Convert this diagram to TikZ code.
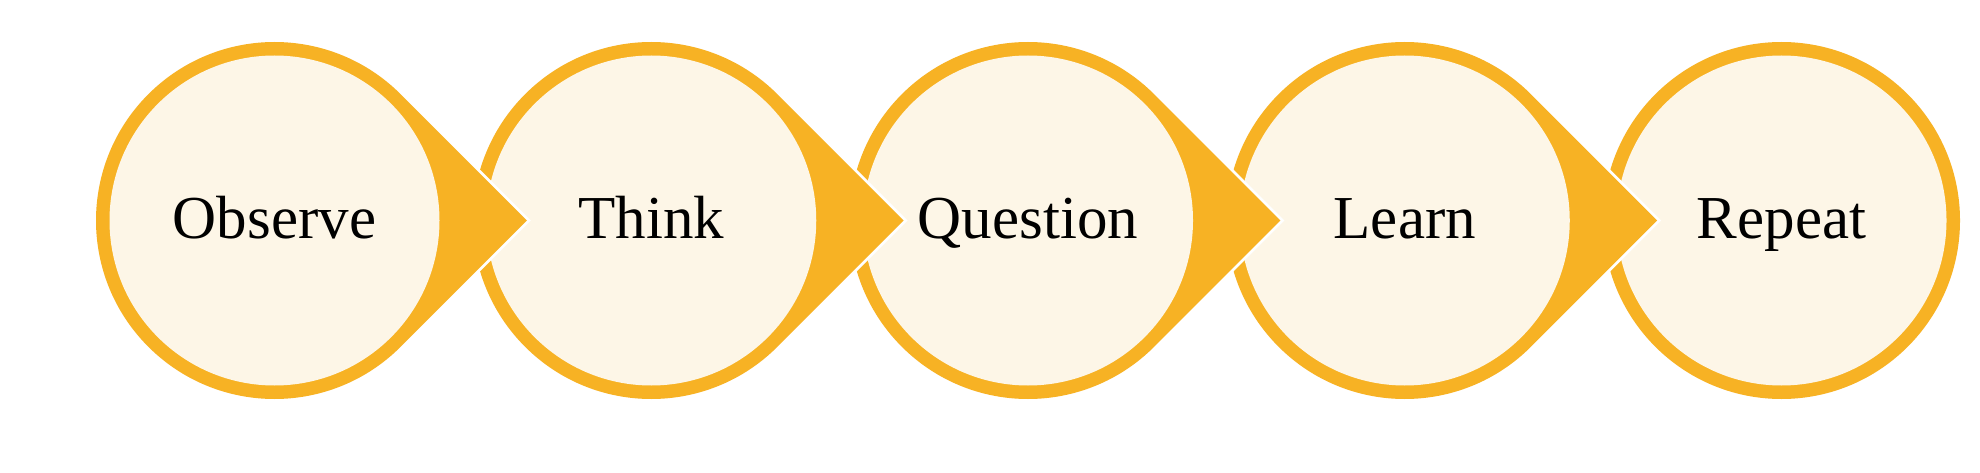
\documentclass[tikz,border=0pt]{standalone}
\usepackage{fontspec}
\setmainfont{Liberation Serif}
\definecolor{gold}{RGB}{247,178,36}
\definecolor{cream}{RGB}{253,246,231}
\tikzset{
  lbl/.style={font=\fontsize{61}{61}\selectfont, text=black, inner sep=0pt, anchor=base},
}
\newcommand{\teardrop}[2]{% center x, with arrow (1) or not (0)
  \ifnum#2=1
    \path[draw=white, line width=5.5pt, fill=gold, line join=miter]
      (#1,251.5) ++(45:178.5) arc[start angle=45, end angle=315, radius=178.5]
      -- (#1+252.44,251.5) -- cycle;
    \fill[gold] (#1,251.5) ++(45:178.5) arc[start angle=45, end angle=315, radius=178.5]
      -- (#1+252.44,251.5) -- cycle;
  \else
    \fill[gold] (#1,251.5) circle[radius=178.5];
  \fi
  \fill[cream] (#1,251.5) circle[radius=165];
}
\begin{document}
\begin{tikzpicture}[x=1pt,y=1pt]
\useasboundingbox[fill=white] (0,0) rectangle (1980,472);
\teardrop{1781.5}{0}
\teardrop{1404.75}{1}
\teardrop{1028}{1}
\teardrop{651.25}{1}
\teardrop{274.5}{1}
\node[lbl] (observe) at (274.5,234) {Observe};
\node[lbl] (think) at (651.25,234) {Think};
\node[lbl] (question) at (1028,234) {Question};
\node[lbl] (learn) at (1404.75,234) {Learn};
\node[lbl] (repeat) at (1781.5,234) {Repeat};
\end{tikzpicture}
\end{document}
